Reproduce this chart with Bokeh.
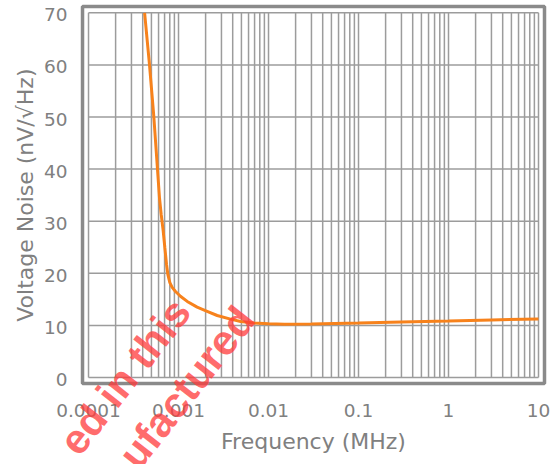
from bokeh.plotting import figure
from bokeh.models import Range1d, Label
from bokeh.core.properties import value
from bokeh.embed import file_html
from bokeh.resources import INLINE

# Input voltage noise density versus frequency
freq_mhz = [0.00042, 0.000476, 0.000532, 0.000615, 0.000642, 0.000676,
            0.000705, 0.000736, 0.000761, 0.000801, 0.00085, 0.000926,
            0.00105, 0.00125, 0.00161, 0.00208, 0.00269, 0.00378, 0.00489,
            0.00687, 0.01, 0.015, 0.03, 0.1, 0.3, 1, 3, 10]
noise_nv = [70, 60, 50, 34.4, 31.3, 28.1,
            24.9, 21.7, 19.8, 18.2, 17.3, 16.5,
            15.6, 14.6, 13.5, 12.7, 11.9, 11.2, 10.76,
            10.44, 10.3, 10.2, 10.25, 10.45, 10.65, 10.85, 11.05, 11.25]

x_ticks = [0.0001, 0.001, 0.01, 0.1, 1, 10]
x_tick_labels = ["0.0001", "0.001", "0.01", "0.1", "1", "10"]
y_ticks = [0, 10, 20, 30, 40, 50, 60, 70]
y_tick_labels = ["0", "10", "20", "30", "40", "50", "60", "70"]

x_title = "Frequency (MHz)"
y_title = "Voltage Noise (nV/\u221aHz)"
stamp_lines = ["ed in this", "ufactured"]
stamp_ends = [(0.00108, 14.13), (0.00555, 12.59)]

FONT = "DejaVu Sans"
GREY_TEXT = "#808080"
GRID = "#9c9c9c"
FRAME = "#8a8a8a"

# the canvas is one large frame: 90 px per decade, ~5.2 px per nV
p = figure(width=556, height=464, x_axis_type="log",
           x_range=Range1d(10 ** -4.978, 10 ** 1.2),
           y_range=Range1d(-16.7, 72.36),
           x_axis_location=None, y_axis_location=None,
           output_backend="svg", toolbar_location=None,
           min_border=0)
p.outline_line_color = None
p.background_fill_color = "white"
p.border_fill_color = "white"
p.xgrid.visible = False
p.ygrid.visible = False

x0, x1 = x_ticks[0], x_ticks[-1]
y0, y1 = y_ticks[0], y_ticks[-1]

# outer box, a few pixels outside the plotting area
p.quad(left=x0 * 10 ** (-6 / 90), right=x1 * 10 ** (6 / 90),
       bottom=y0 - 1.15, top=y1 + 1.2,
       fill_color=None, line_color=FRAME, line_width=3.5)

# grid: 1..9 per decade vertically, every y tick horizontally
grid_x = [m * d for d in x_ticks[:-1] for m in range(1, 10)] + [x1]
p.segment(x0=grid_x, y0=[y0] * len(grid_x), x1=grid_x, y1=[y1] * len(grid_x),
          line_color=GRID, line_width=1.5)
p.segment(x0=[x0] * len(y_ticks), y0=y_ticks, x1=[x1] * len(y_ticks), y1=y_ticks,
          line_color=GRID, line_width=1.5)

p.line(freq_mhz, noise_nv, line_color="#f7821c", line_width=3)

# tick labels
p.text(x=x_ticks, y=[y0 - 6.3] * len(x_ticks), text=x_tick_labels,
       text_font=value(FONT), text_font_size="18.5px", text_color=GREY_TEXT,
       text_align="center", text_baseline="middle")
p.text(x=[x0 * 10 ** (-21 / 90)] * len(y_ticks), y=[v - 0.4 for v in y_ticks],
       text=y_tick_labels,
       text_font=value(FONT), text_font_size="18.5px", text_color=GREY_TEXT,
       text_align="right", text_baseline="middle")

# axis titles
p.add_layout(Label(x=(x0 * x1) ** 0.5, y=y0 - 12.3, text=x_title,
                   text_font=FONT, text_font_size="22px", text_color=GREY_TEXT,
                   text_align="center", text_baseline="middle"))
p.add_layout(Label(x=x0 * 10 ** (-63 / 90), y=(y0 + y1) / 2, text=y_title,
                   angle=90, angle_units="deg",
                   text_font=FONT, text_font_size="22px", text_color=GREY_TEXT,
                   text_align="center", text_baseline="middle"))

# diagonal stamp across the lower left
for txt, (wx, wy) in zip(stamp_lines, stamp_ends):
    p.add_layout(Label(x=wx, y=wy, text=txt, angle=52, angle_units="deg",
                       text_align="right", text_baseline="alphabetic",
                       text_font="Liberation Sans", text_font_style="bold",
                       text_font_size="42px", text_color="#ff3b3b",
                       text_alpha=0.75))

open("out.html", "w").write(file_html(p, INLINE))
